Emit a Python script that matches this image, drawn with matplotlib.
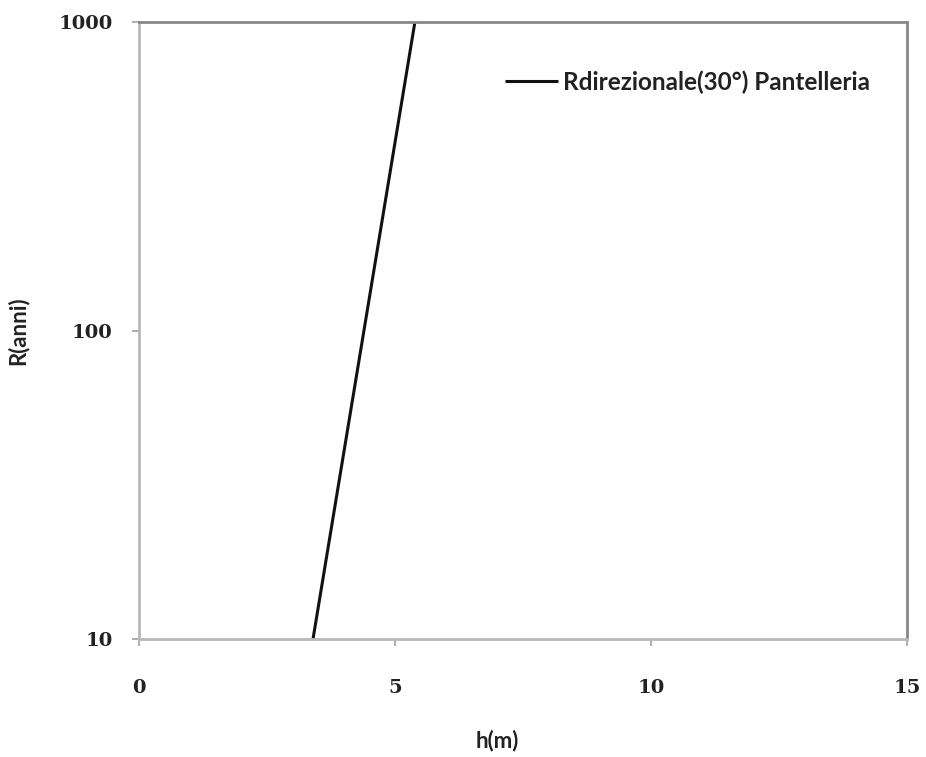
import matplotlib
matplotlib.use("Agg")
import matplotlib.pyplot as plt

h_m = [3.40, 5.39]
R_anni = [10, 1000]
series_label = "Rdirezionale(30°) Pantelleria"
x_ticks = [0, 5, 10, 15]
y_ticks = [10, 100, 1000]

fig = plt.figure(figsize=(9.26, 7.57), dpi=100)
ax = fig.add_axes([0.150, 0.1559, 0.8295, 0.815])
ax.plot(h_m, R_anni, color="#111111", lw=2.2, label=series_label, solid_capstyle="butt")
ax.set_yscale("log")
ax.set_xlim(0, 15)
ax.set_ylim(10, 1000)
ax.set_xticks(x_ticks)
ax.set_xticklabels([str(t) for t in x_ticks])
ax.set_yticks(y_ticks)
ax.set_yticklabels([str(t) for t in y_ticks])
ax.minorticks_off()
for side in ["left", "bottom"]:
    ax.spines[side].set_color("#b8b8b8")
    ax.spines[side].set_linewidth(2)
for side in ["top", "right"]:
    ax.spines[side].set_color("#888888")
    ax.spines[side].set_linewidth(2)
ax.tick_params(axis="both", direction="out", length=5, width=1.5, color="#b0b0b0")
ax.tick_params(axis="x", pad=24)
ax.tick_params(axis="y", pad=14)
for lab in ax.get_xticklabels() + ax.get_yticklabels():
    lab.set_fontfamily("DejaVu Serif")
    lab.set_fontweight("bold")
    lab.set_fontsize(14)
    lab.set_color("#222222")
ax.set_xlabel("h(m)", fontsize=16, fontweight="bold", family="Lato", color="#222222")
ax.set_ylabel("R(anni)", fontsize=16, fontweight="bold", family="Lato", color="#222222")
ax.xaxis.label.set_verticalalignment("center")
ax.yaxis.label.set_verticalalignment("center")
ax.xaxis.set_label_coords(0.466, -0.164)
ax.yaxis.set_label_coords(-0.1576, 0.50)
leg = ax.legend(loc="center left", bbox_to_anchor=(0.4766, 0.9027), frameon=False,
                borderpad=0, borderaxespad=0,
                prop={"family": "Lato", "weight": "bold", "size": 17.5},
                handlelength=2.2, handletextpad=0.2)
for t in leg.get_texts():
    t.set_color("#222222")
fig.savefig("out.png", dpi=100)
